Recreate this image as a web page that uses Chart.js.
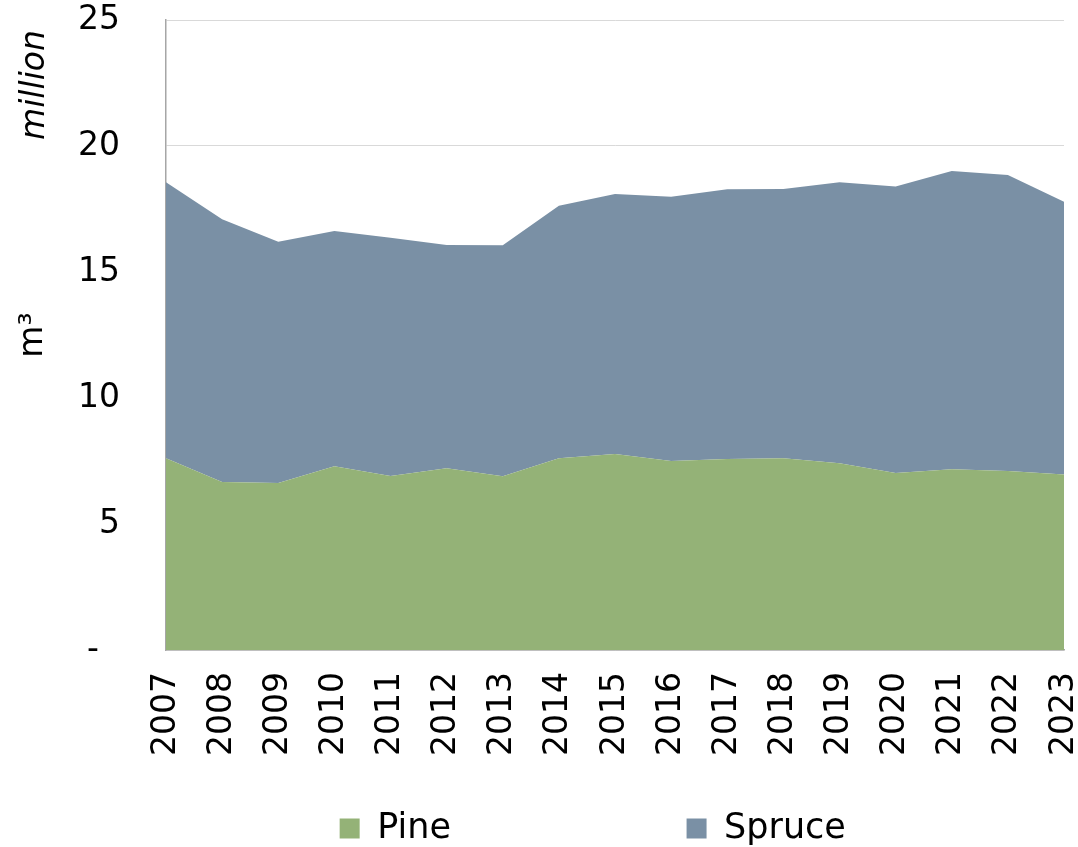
<!DOCTYPE html>
<html><head><meta charset="utf-8">
<script src="https://cdn.jsdelivr.net/npm/chart.js@4.4.1/dist/chart.umd.min.js"></script>
<style>html,body{margin:0;padding:0;background:#fff}#wrap{width:1078px;height:847px;position:relative}</style>
</head><body><div id="wrap"><canvas id="c"></canvas></div>
<script>
const years = ['2007','2008','2009','2010','2011','2012','2013','2014','2015','2016','2017','2018','2019','2020','2021','2022','2023'];
const pine = [7.61,6.67,6.63,7.29,6.90,7.21,6.89,7.61,7.78,7.50,7.58,7.61,7.41,7.02,7.17,7.10,6.96];
const spruce = [10.95,10.42,9.57,9.34,9.46,8.86,9.17,10.02,10.32,10.49,10.70,10.68,11.15,11.37,11.84,11.75,10.83];
const seriesNames = ['Pine','Spruce'];
const unitTitle = 'm\u00B3';
const unitTop = 'million';

const FONT = '"DejaVu Sans", sans-serif';
const millionLabel = {
  id:'millionLabel',
  afterDraw(chart){
    const c = chart.ctx; c.save();
    c.translate(35, 85); c.rotate(-Math.PI/2);
    c.font = 'italic 33px ' + FONT; c.fillStyle = '#000';
    c.textAlign = 'center'; c.textBaseline = 'middle';
    c.fillText(unitTop, 0, 0); c.restore();
  }
};
const padNames = [seriesNames[0] + ' '.repeat(21), seriesNames[1] + ' '.repeat(4)];

new Chart(document.getElementById('c'), {
  type:'line',
  data:{
    labels: years,
    datasets:[
      {label:seriesNames[0], data:pine, backgroundColor:'#94B277', borderWidth:0, pointRadius:0, fill:'origin', tension:0},
      {label:seriesNames[1], data:spruce, backgroundColor:'#7A90A5', borderWidth:0, pointRadius:0, fill:'-1', tension:0}
    ]
  },
  options:{
    responsive:true, maintainAspectRatio:false, animation:false,
    layout:{padding:{top:20, right:14, left:0, bottom:-9}},
    plugins:{
      tooltip:{enabled:false},
      legend:{
        position:'bottom', fullSize:false,
        labels:{
          font:{family:FONT, size:35}, color:'#000', boxWidth:20, boxHeight:20, padding:2,
          generateLabels(chart){
            return chart.data.datasets.map((d,i)=>({text:padNames[i], fillStyle:d.backgroundColor, strokeStyle:d.backgroundColor, lineWidth:0, datasetIndex:i, hidden:false}));
          }
        }
      }
    },
    scales:{
      x:{
        offset:false,
        grid:{display:false, drawTicks:false},
        border:{display:true, color:'#a6a6a6', width:1.5},
        ticks:{font:{family:FONT, size:33, lineHeight:1}, color:'#000', minRotation:90, maxRotation:90, padding:22, autoSkip:false},
        afterFit(s){ s.height = 159; s.paddingLeft = 0; s.paddingRight = 0; }
      },
      y:{
        stacked:true, min:0, max:25,
        grid:{color:'#d9d9d9', lineWidth:1, drawTicks:false},
        border:{display:true, color:'#a6a6a6', width:1.5},
        ticks:{stepSize:5, font:{family:FONT, size:33}, color:'#000', padding:46,
          callback:(v)=> v===0 ? '-  ' : String(v)},
        title:{display:true, text:unitTitle, font:{family:FONT, size:33}, color:'#000', padding:{top:14, bottom:0}},
        afterFit(s){ s.width = 166; s.paddingTop = 0; s.paddingBottom = 0; }
      }
    }
  },
  plugins:[millionLabel]
});
</script>
</body></html>
